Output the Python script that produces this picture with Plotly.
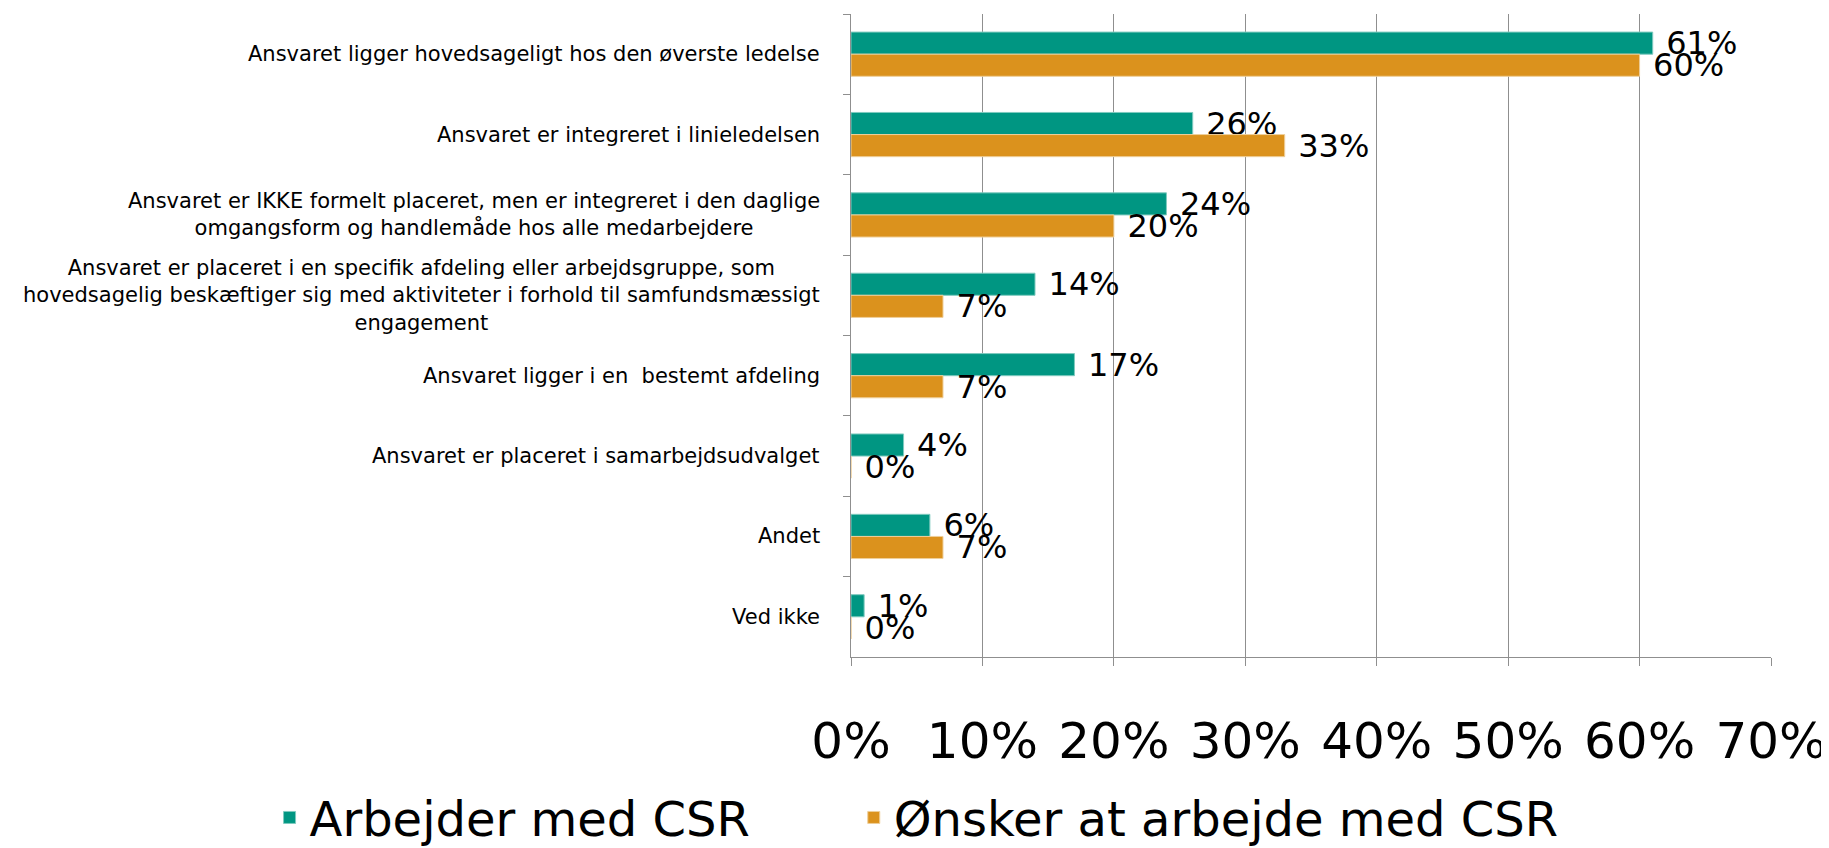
import plotly.graph_objects as go

categories = [
    "Ansvaret ligger hovedsageligt hos den øverste ledelse",
    "Ansvaret er integreret i linieledelsen",
    "Ansvaret er IKKE formelt placeret, men er integreret i den daglige<br>omgangsform og handlemåde hos alle medarbejdere",
    "Ansvaret er placeret i en specifik afdeling eller arbejdsgruppe, som<br>hovedsagelig beskæftiger sig med aktiviteter i forhold til samfundsmæssigt<br>engagement",
    "Ansvaret ligger i en  bestemt afdeling",
    "Ansvaret er placeret i samarbejdsudvalget",
    "Andet",
    "Ved ikke",
]
arbejder = [61, 26, 24, 14, 17, 4, 6, 1]
onsker = [60, 33, 20, 7, 7, 0, 7, 0]
xticks = [0, 10, 20, 30, 40, 50, 60, 70]
xticklabels = [f"{v}%" for v in xticks]

TEAL = "#009682"
ORANGE = "#DB921D"
FONT = "Verdana, DejaVu Sans, sans-serif"

fig = go.Figure()
fig.add_trace(go.Bar(
    y=categories, x=arbejder, orientation="h", name="Arbejder med CSR",
    marker=dict(color=TEAL, line=dict(color="#7fcabf", width=1)),
    text=[f"\u2004{v}%" for v in arbejder], textposition="outside",
    constraintext="none", cliponaxis=False,
    textfont=dict(size=32, color="black", family=FONT),
    legend="legend",
))
fig.add_trace(go.Bar(
    y=categories, x=onsker, orientation="h", name="Ønsker at arbejde med CSR",
    marker=dict(color=ORANGE, line=dict(color="#efcf9a", width=1)),
    text=[f"\u2004{v}%" for v in onsker], textposition="outside",
    constraintext="none", cliponaxis=False,
    textfont=dict(size=32, color="black", family=FONT),
    legend="legend2",
))

# category labels, centred like the original
for c in categories:
    fig.add_annotation(
        x=0, xref="paper", xanchor="right", xshift=-29,
        y=c, yref="y", yanchor="middle",
        text=c, align="center", showarrow=False,
        font=dict(size=21, color="black", family=FONT),
    )

leg = dict(
    orientation="h", xref="paper", yref="paper",
    y=-0.25, xanchor="left", yanchor="middle",
    font=dict(size=48, family=FONT),
)

fig.update_layout(
    width=1829, height=848,
    paper_bgcolor="white", plot_bgcolor="white",
    barmode="group", bargap=0.45, bargroupgap=0,
    margin=dict(l=843, r=66, t=6, b=199, autoexpand=False),
    font=dict(family=FONT, color="black"),
    showlegend=True,
    legend=dict(x=-0.632, **leg),
    legend2=dict(x=0.003, **leg),
    xaxis=dict(
        range=[0, 70], tickvals=xticks, ticktext=xticklabels,
        showgrid=True, gridcolor="#8f8f8f", gridwidth=1,
        showline=True, linecolor="#8f8f8f", linewidth=1,
        ticks="outside", ticklen=8, tickcolor="#8f8f8f",
        tickfont=dict(size=50, family=FONT, color="black"),
        ticklabelstandoff=32, zeroline=False,
    ),
    yaxis=dict(
        autorange="reversed", showticklabels=False,
        showline=True, linecolor="#8f8f8f", linewidth=1,
        ticks="outside", ticklen=7, tickcolor="#8f8f8f",
        tickson="boundaries", showgrid=False,
    ),
)

fig.write_html("out.html")
